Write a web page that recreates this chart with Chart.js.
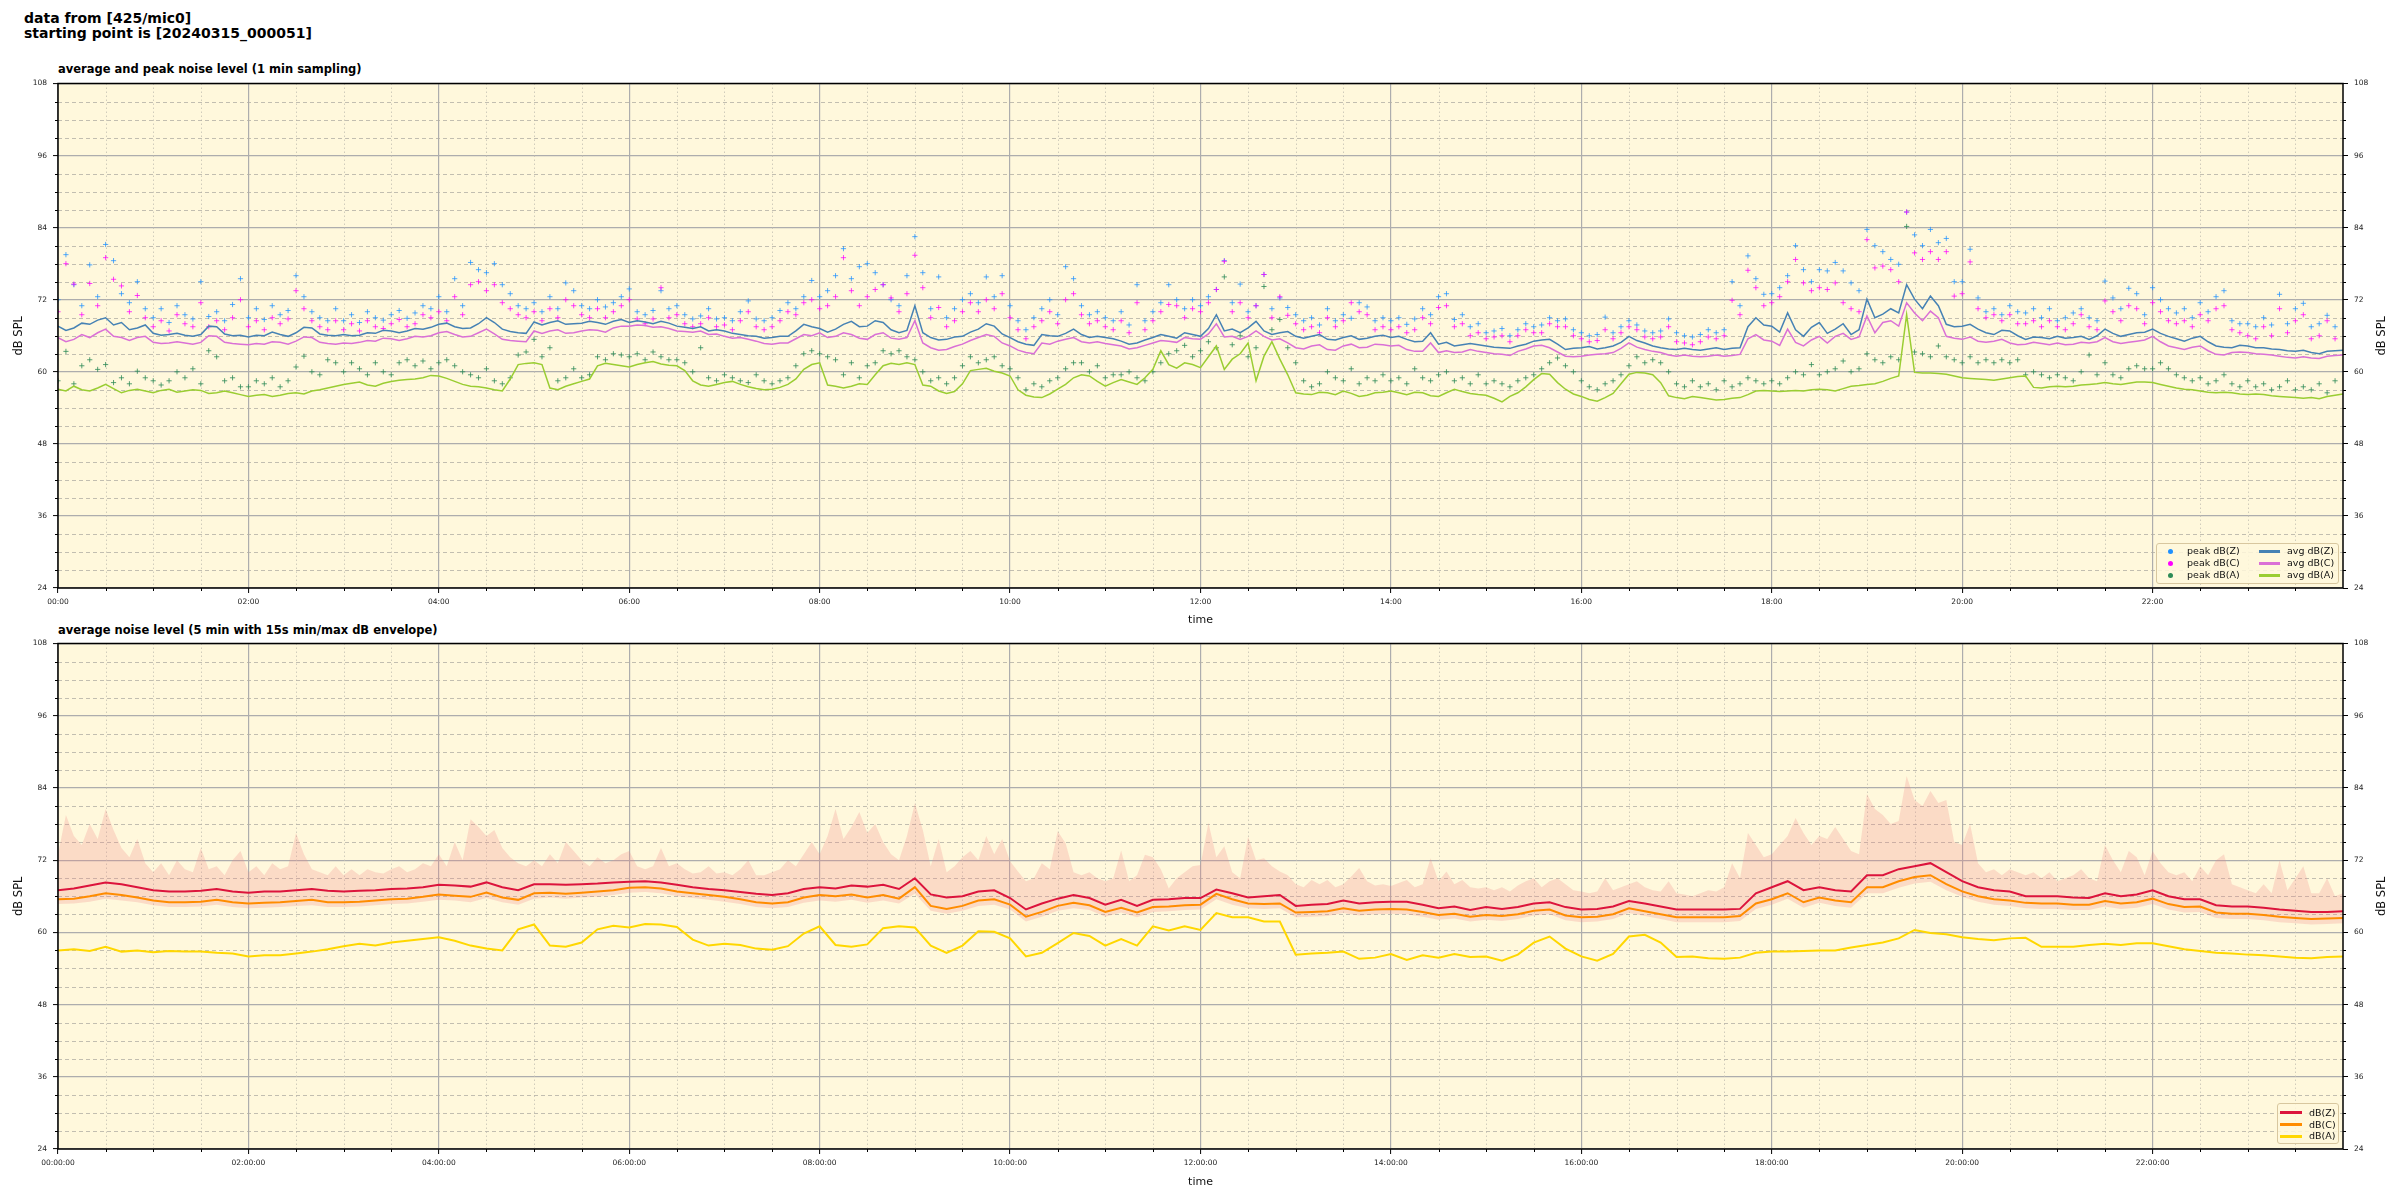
<!DOCTYPE html>
<html>
<head>
<meta charset="utf-8">
<script src="https://cdn.jsdelivr.net/npm/chart.js@4.4.1/dist/chart.umd.min.js"></script>
<style>
html,body{margin:0;padding:0;background:#fff;}
#wrap{position:relative;width:2400px;height:1200px;overflow:hidden;font-family:"DejaVu Sans",sans-serif;color:#000;}
.hdr{position:absolute;left:24px;top:11px;font-weight:bold;font-size:14px;line-height:15px;white-space:pre;}
.ttl{position:absolute;left:58px;font-weight:bold;font-size:11.5px;line-height:13px;white-space:pre;}
canvas{position:absolute;left:0;}
.lg{position:absolute;background:rgba(255,248,220,0.85);border:1px solid #d8c79f;border-radius:3px;box-sizing:border-box;}
.lg .it{position:absolute;font-size:9.5px;line-height:12px;height:12px;white-space:pre;color:#111;}
.lg .dot{position:absolute;width:5px;height:5px;border-radius:50%;}
.lg .ln{position:absolute;height:3px;}
</style>
</head>
<body>
<div id="wrap">
  <div class="hdr" id="hdr"></div>
  <div class="ttl" id="t1" style="top:63px"></div>
  <div class="ttl" id="t2" style="top:624px"></div>
  <canvas id="c1" width="2400" height="561" style="top:79px"></canvas>
  <canvas id="c2" width="2400" height="561" style="top:639px"></canvas>
</div>
<script>
// ---------------- text ----------------
const headerLines = ['data from [425/mic0]', 'starting point is [20240315_000051]'];
const titleTop = 'average and peak noise level (1 min sampling)';
const titleBottom = 'average noise level (5 min with 15s min/max dB envelope)';
const yTitle = 'dB SPL';
const xTitle = 'time';

// ---------------- axes ----------------
const tickMinutes = [0, 120, 240, 360, 480, 600, 720, 840, 960, 1080, 1200, 1320];
const timeLabelsTop = ['00:00','02:00','04:00','06:00','08:00','10:00','12:00','14:00','16:00','18:00','20:00','22:00'];
const timeLabelsBottom = ['00:00:00','02:00:00','04:00:00','06:00:00','08:00:00','10:00:00','12:00:00','14:00:00','16:00:00','18:00:00','20:00:00','22:00:00'];
const yTickValues = [24, 36, 48, 60, 72, 84, 96, 108];
const yTickLabels = ['24','36','48','60','72','84','96','108'];

// sampling steps in minutes (x = index * step)
const AVG1_STEP = 5, PEAK_STEP = 5, AVG5_STEP = 10, ENVMAX_STEP = 5, ENVMIN_STEP = 10;

// ---------------- top chart: 1-min averages (read every 5 min, one row per hour) ----------------
const avgZ = [
67.6,66.9,67.3,68.1,67.9,68.6,69.0,67.8,68.2,67.0,67.3,67.8,
66.4,66.1,66.2,66.4,66.1,65.9,66.2,67.6,67.5,66.3,66.0,66.1,
65.8,66.1,66.0,66.6,66.2,65.9,66.5,67.4,67.3,66.3,66.1,66.0,
66.2,66.0,66.1,66.5,66.4,66.9,66.8,66.5,66.8,67.2,67.1,67.4,
67.9,68.1,67.5,67.2,67.3,68.0,69.0,68.2,67.1,66.7,66.5,66.4,
68.3,67.8,68.2,68.5,67.9,68.0,68.1,68.4,68.2,67.9,68.4,68.7,
68.2,68.5,68.3,68.0,68.4,68.1,67.6,67.4,67.2,67.5,66.8,67.0,
66.8,66.4,66.2,66.0,65.9,65.6,65.7,65.9,65.9,66.8,67.9,67.5,
67.2,66.6,67.1,67.9,68.4,67.5,67.6,68.5,68.2,67.0,66.5,66.9,
71.0,66.5,65.7,65.3,65.4,65.8,65.9,66.6,67.1,68.0,67.6,66.3,
65.7,65.0,64.6,64.4,66.2,66.0,65.9,66.4,67.1,66.2,65.7,65.9,
65.7,65.5,65.1,64.6,64.8,65.3,65.7,66.2,65.9,65.6,66.5,66.2,
65.9,67.2,69.5,66.8,67.1,66.5,67.3,68.4,66.8,66.2,66.5,66.7,
65.9,65.6,65.9,66.2,65.4,65.3,65.7,66.0,65.4,65.6,65.9,66.1,
65.7,65.9,65.4,65.0,65.1,66.5,64.6,64.9,64.3,64.5,64.7,64.5,
64.3,64.1,64.0,63.9,64.3,64.6,65.1,65.3,65.4,64.6,63.7,63.9,
64.0,64.2,63.8,64.0,64.3,64.9,65.9,65.2,64.8,64.3,64.0,63.8,
63.7,63.9,63.7,63.6,63.8,64.0,63.7,63.9,64.0,67.5,69.0,67.8,
67.6,66.6,69.8,67.0,65.9,67.4,68.2,66.4,67.1,68.0,66.2,67.0,
72.1,69.0,69.6,70.5,69.8,74.5,72.1,70.5,72.6,71.0,67.9,67.5,
67.6,67.9,67.1,66.5,66.2,66.9,66.8,66.0,65.4,65.8,65.7,65.5,
65.9,65.6,65.7,65.9,65.4,66.0,67.1,66.4,65.9,66.2,66.5,66.6,
67.1,66.4,65.9,65.5,65.1,65.6,65.9,65.0,64.3,64.1,64.0,64.4,
64.3,64.0,64.0,63.8,63.7,63.5,63.4,63.6,63.2,63.0,63.4,63.5,63.6];
const avgC = [
65.7,65.0,65.4,66.2,65.7,66.5,67.1,65.9,65.7,65.2,65.7,65.9,
64.9,64.7,64.8,65.0,64.8,64.6,64.9,66.0,65.9,64.9,64.7,64.6,
64.5,64.7,64.6,65.0,64.9,64.6,65.1,65.8,65.7,64.9,64.7,64.6,
64.8,64.7,64.9,65.2,65.1,65.6,65.5,65.2,65.5,65.9,65.8,66.0,
66.5,66.7,66.2,65.8,65.9,66.5,67.1,66.3,65.4,65.2,65.1,65.0,
66.8,66.4,66.8,67.0,66.4,66.5,66.8,67.0,66.9,66.6,67.3,67.6,
67.6,67.8,67.7,67.4,67.5,67.2,66.8,66.7,66.6,66.8,66.2,66.3,
65.9,65.6,65.7,65.4,65.1,64.7,64.6,64.8,64.8,65.5,66.2,66.0,
66.5,65.7,65.9,66.5,66.2,65.6,65.4,66.2,66.5,65.6,65.4,65.7,
68.5,64.8,64.0,63.6,63.7,64.2,64.6,65.2,65.7,66.2,65.9,64.8,
64.3,63.6,63.2,63.0,64.8,64.6,65.1,65.4,65.7,65.0,64.8,65.0,
64.7,64.5,64.3,63.8,64.0,64.4,64.8,65.2,65.1,64.9,65.7,65.5,
65.4,66.3,68.0,65.8,65.9,65.4,65.9,66.8,65.9,65.3,65.5,64.8,
64.0,63.8,64.3,64.5,63.7,63.6,64.3,64.6,64.0,64.1,64.6,64.5,
64.3,64.4,63.7,63.4,63.4,64.8,63.2,63.5,63.2,63.3,63.7,63.4,
63.2,63.0,62.9,62.7,63.4,63.8,64.3,64.4,64.0,63.3,62.6,62.5,
62.6,62.8,62.9,63.0,63.2,63.9,64.8,64.1,63.7,63.4,63.2,62.8,
62.6,62.8,62.6,62.5,62.6,62.8,62.6,62.7,62.9,65.5,66.2,65.3,
65.1,64.4,67.1,64.9,64.3,65.3,65.9,64.8,65.9,66.4,65.4,65.8,
69.3,66.5,68.2,68.5,67.6,71.5,69.8,68.5,70.1,69.0,65.9,65.6,
65.4,65.8,65.1,64.9,65.1,65.4,64.8,64.5,64.6,64.9,64.7,64.5,
64.8,64.5,64.6,64.9,64.8,65.0,65.7,65.0,64.7,64.9,65.1,65.3,
65.9,65.0,64.3,64.0,63.7,64.1,64.3,63.5,62.9,62.8,63.2,63.3,
63.2,63.0,62.9,62.8,62.6,62.4,62.3,62.5,62.3,62.2,62.6,62.7,62.8];
const avgA = [
57.1,56.8,57.6,57.0,56.8,57.3,57.9,57.2,56.5,56.9,57.1,56.8,
56.5,56.9,57.1,56.6,56.8,57.0,56.9,56.4,56.5,56.8,56.5,56.2,
55.9,56.1,56.2,55.9,56.1,56.4,56.5,56.3,56.8,57.0,57.3,57.6,
57.9,58.1,58.3,57.8,57.6,58.1,58.4,58.6,58.7,58.8,59.0,59.4,
59.3,58.9,58.4,57.9,57.6,57.5,57.3,57.0,56.8,58.8,61.2,61.4,
61.5,61.2,57.3,57.0,57.6,58.0,58.4,58.8,61.0,61.4,61.2,61.0,
60.8,61.2,61.5,61.7,61.3,61.1,61.0,60.2,58.5,57.8,57.6,57.9,
58.2,58.4,57.9,57.5,57.2,57.0,57.1,57.4,57.9,58.8,60.4,61.2,
61.5,57.8,57.6,57.3,57.6,58.0,57.9,59.5,61.0,61.4,61.2,61.5,
61.2,57.8,57.6,56.8,56.4,56.7,58.0,60.2,60.4,60.6,60.1,59.8,
59.3,57.0,56.1,55.8,55.7,56.3,57.1,57.9,59.0,59.5,59.3,58.4,
57.6,58.2,58.7,58.3,57.9,59.0,60.4,63.5,61.2,60.6,61.5,61.2,
60.7,62.5,64.3,60.4,62.1,63.0,64.8,58.5,62.6,65.0,62.1,59.5,
56.5,56.3,56.2,56.6,56.5,56.2,56.8,56.4,55.9,56.1,56.5,56.6,
56.8,56.5,56.2,56.6,56.5,56.0,55.9,56.5,57.1,56.7,56.4,56.2,
56.1,55.6,55.0,55.9,56.5,57.5,58.7,59.7,59.6,58.2,57.1,56.3,
55.9,55.4,55.1,55.7,56.4,58.0,59.6,59.9,59.8,59.5,58.2,56.0,
55.7,55.5,55.9,55.7,55.5,55.3,55.4,55.6,55.7,56.2,56.8,56.9,
56.8,56.7,56.8,56.9,56.8,57.0,57.1,57.0,56.8,57.2,57.6,57.7,
57.9,58.0,58.4,58.9,59.3,69.5,59.9,59.8,59.8,59.7,59.6,59.3,
59.0,58.9,58.8,58.7,58.6,58.8,59.0,59.2,59.3,57.4,57.3,57.5,
57.6,57.5,57.6,57.8,57.9,58.0,58.2,58.0,57.9,58.1,58.3,58.3,
58.2,57.9,57.6,57.3,57.1,57.0,56.8,56.6,56.5,56.6,56.5,56.3,
56.2,56.3,56.2,56.0,55.9,55.8,55.7,55.6,55.7,55.5,55.9,56.1,56.3];

// ---------------- top chart: 1-min peaks (read every 5 min) ----------------
const peakZ = [
72.0,79.5,74.5,71.0,77.8,72.5,81.2,78.5,73.0,71.5,75.0,70.5,
69.0,70.5,68.2,71.0,69.5,68.8,75.0,69.2,70.0,68.5,71.2,75.5,
69.0,70.5,68.7,71.0,69.5,70.2,76.0,72.5,70.0,69.0,68.5,70.5,
68.5,69.5,68.2,70.0,69.0,68.6,69.5,70.2,68.9,69.8,71.0,70.5,
72.5,70.0,75.5,71.0,78.2,77.0,76.5,78.0,74.5,73.0,71.0,70.5,
71.5,70.0,72.5,70.5,74.8,73.5,71.0,70.5,72.0,70.8,71.5,72.5,
73.8,70.0,69.5,70.2,73.5,70.5,71.0,69.5,68.8,69.3,70.5,68.8,
69.0,68.5,70.0,71.8,68.8,68.5,69.0,70.2,71.5,70.5,72.5,75.2,
72.5,73.5,76.0,80.5,75.5,77.5,78.0,76.5,74.5,72.0,71.0,76.0,
82.5,76.5,70.5,75.8,69.0,70.5,72.0,73.0,71.5,75.8,72.5,76.0,
71.0,68.5,67.0,69.0,70.5,72.0,69.5,77.5,75.5,71.0,69.5,70.0,
69.0,68.5,70.0,67.8,74.5,68.5,70.0,71.5,74.5,72.0,70.5,72.0,
71.0,72.5,73.7,78.5,71.5,74.6,70.0,71.0,76.2,70.5,72.3,70.7,
69.5,68.5,69.0,67.8,70.5,68.5,69.5,68.9,71.5,70.8,68.5,69.0,
68.5,69.0,67.9,68.8,70.5,69.5,72.5,73.0,68.7,69.5,67.5,68.0,
66.5,66.8,67.2,66.0,67.0,68.0,67.5,67.8,69.0,68.5,68.8,67.0,
66.5,66.0,66.2,69.1,66.5,67.5,68.5,67.8,66.8,66.5,66.8,68.8,
66.5,66.0,65.8,66.2,67.0,66.5,67.0,75.0,71.0,79.3,75.5,72.9,
73.0,74.0,76.0,81.0,77.0,75.0,77.0,76.8,78.2,76.8,74.8,73.5,
83.7,81.0,80.0,78.7,77.9,86.6,82.8,81.0,83.7,81.5,82.2,75.0,
75.0,80.4,72.3,70.0,70.5,69.5,71.0,70.0,69.8,70.5,69.0,70.5,
68.5,69.0,69.8,70.5,69.0,68.5,75.1,72.3,70.5,73.9,73.0,69.5,
74.0,72.0,70.5,69.8,70.5,69.0,71.5,70.0,72.5,73.5,68.5,68.0,
68.0,67.5,69.0,67.8,72.9,68.0,70.5,71.4,67.5,68.0,69.4,67.5];
const peakC = [
70.0,78.0,74.6,69.5,74.7,71.0,79.0,75.4,74.3,70.0,72.7,69.0,
67.5,68.5,66.8,69.5,68.0,67.5,71.5,67.5,68.5,67.0,69.0,72.0,
67.5,68.5,67.0,69.0,68.0,68.8,73.5,70.5,68.5,67.5,67.0,68.5,
67.0,68.0,66.8,68.5,67.5,67.2,68.0,68.7,67.5,68.0,69.5,69.0,
70.0,68.5,72.5,69.5,74.5,75.0,73.5,74.5,71.5,70.5,69.5,69.0,
70.0,68.5,70.5,69.0,72.0,71.0,69.5,69.0,70.5,69.0,70.0,71.0,
72.0,68.8,68.0,68.8,74.0,69.0,69.5,68.0,67.5,68.0,69.0,67.5,
67.8,67.0,68.5,70.0,67.5,67.0,67.5,68.5,70.0,69.5,71.5,72.0,
70.5,71.0,72.5,79.0,73.5,71.0,72.5,73.7,74.5,72.3,70.0,73.0,
79.4,74.0,69.0,70.7,67.5,68.5,70.0,71.5,70.0,72.0,70.5,73.0,
69.0,67.0,65.5,67.5,68.5,70.0,68.0,72.0,73.0,69.5,68.0,68.5,
67.5,67.0,68.5,66.5,71.5,67.0,68.5,70.0,71.2,71.0,69.0,70.5,
70.0,71.5,73.7,78.4,70.0,71.5,69.0,71.0,76.2,69.0,72.5,69.4,
68.0,67.0,67.5,66.5,69.0,67.5,68.5,71.5,70.0,69.5,67.0,67.5,
67.0,67.5,66.5,67.0,69.0,68.0,70.7,71.0,67.5,68.0,66.0,66.5,
65.5,65.8,66.0,65.0,66.0,67.0,66.5,66.5,68.0,67.5,67.5,66.0,
65.5,65.0,65.2,67.0,65.5,66.5,67.5,67.0,65.8,65.5,65.8,67.5,
65.0,64.8,64.5,65.0,65.8,65.5,66.0,71.9,69.5,76.9,74.0,71.0,
71.5,72.5,75.0,78.7,74.8,73.5,74.0,73.7,74.8,71.5,70.5,70.0,
82.0,77.3,77.6,77.0,75.0,86.6,79.8,78.7,80.0,78.7,80.0,72.6,
73.0,78.3,70.5,69.0,69.5,68.5,69.5,68.0,68.0,68.5,67.5,68.5,
67.5,67.0,68.0,69.5,67.5,67.0,71.8,70.0,68.5,71.0,70.5,68.0,
71.5,70.0,68.5,68.0,68.5,67.5,69.5,68.5,70.5,71.0,67.0,66.5,
66.0,65.5,67.5,66.0,70.5,66.5,68.5,69.5,65.5,66.0,68.5,65.5];
const peakA = [
58.5,63.4,58.0,61.0,62.0,60.4,61.2,58.2,59.0,58.0,60.1,59.0,
58.5,57.8,58.5,60.0,59.0,60.5,58.0,63.5,62.5,58.5,59.0,57.5,
57.5,58.5,58.0,59.0,57.5,58.5,60.8,62.6,60.0,59.5,62.0,61.5,
60.0,61.5,60.5,59.5,61.5,60.0,59.5,61.5,62.0,61.0,61.8,60.5,
61.5,62.0,61.0,60.0,59.5,59.0,60.5,58.5,58.0,59.0,62.8,63.3,
65.4,62.5,64.0,58.5,59.0,60.5,59.0,59.5,62.5,62.0,63.0,62.8,
62.5,63.0,62.0,63.3,62.5,62.0,62.0,61.5,60.0,64.0,59.0,58.5,
59.5,59.0,58.5,58.2,59.5,58.5,58.0,58.5,59.0,61.0,63.0,63.5,
63.0,62.5,62.0,59.5,61.5,59.0,61.0,61.5,63.5,63.0,63.5,62.5,
62.0,60.0,58.5,59.0,58.0,59.0,61.0,62.5,61.5,62.0,62.5,61.0,
60.5,59.0,57.0,58.0,57.5,58.5,59.0,60.5,61.5,61.5,60.0,61.0,
59.0,59.5,59.5,60.0,59.0,58.5,60.0,61.5,63.0,63.5,64.4,62.5,
63.5,65.0,64.0,75.8,64.5,66.0,62.5,64.0,74.2,67.0,68.7,64.0,
61.5,58.5,57.5,58.0,60.0,59.0,58.5,60.5,58.0,59.0,58.5,59.5,
58.5,59.0,58.0,60.5,59.0,58.5,59.5,60.0,58.5,59.0,58.0,59.5,
58.0,58.5,58.0,57.5,58.5,59.0,59.5,60.5,61.5,62.3,61.0,60.0,
58.5,57.5,57.0,58.0,58.5,59.5,61.0,62.5,61.5,62.0,61.5,60.0,
58.0,57.5,58.5,57.5,58.0,57.0,58.5,57.5,58.0,59.0,58.5,58.0,
58.5,58.0,59.0,60.0,59.5,61.2,59.5,60.0,60.5,61.8,60.0,60.5,
63.0,62.0,61.5,62.5,62.0,84.2,63.3,63.0,62.5,64.3,62.5,62.0,
61.5,62.5,61.5,62.0,61.5,62.0,61.5,62.0,59.5,60.0,59.5,59.0,
59.5,59.0,58.5,60.0,62.8,59.5,61.5,59.5,59.0,60.5,61.0,60.5,
60.5,61.5,60.5,59.5,59.0,58.5,59.0,58.0,58.5,59.5,58.0,57.5,
58.5,57.5,58.0,57.0,57.5,58.5,57.0,57.5,57.0,58.0,56.5,58.5];

// ---------------- bottom chart: 5-min averages (read every 10 min) ----------------
const avg5Z = [
67.0,67.3,67.8,68.3,68.0,67.5, 67.0,66.8,66.8,66.9,67.2,66.8, 66.6,66.8,66.8,67.0,67.2,66.9,
66.8,66.9,67.0,67.2,67.3,67.5, 67.9,67.8,67.6,68.3,67.5,67.0, 68.0,68.0,67.9,68.0,68.1,68.3,
68.4,68.5,68.3,67.9,67.5,67.2, 67.0,66.7,66.4,66.2,66.5,67.2, 67.5,67.3,67.8,67.6,67.9,67.2,
69.0,66.3,65.8,66.0,66.8,67.0, 65.7,63.8,64.8,65.6,66.2,65.7, 64.6,65.4,64.4,65.4,65.5,65.7,
65.7,67.1,66.5,65.8,66.0,66.2, 64.4,64.6,64.7,65.3,64.8,65.0, 65.1,65.1,64.6,64.0,64.3,63.7,
64.2,63.9,64.2,64.8,65.0,64.2, 63.8,63.9,64.3,65.2,64.8,64.3, 63.8,63.8,63.8,63.8,63.9,66.5,
67.5,68.5,67.0,67.5,67.0,66.8, 69.5,69.5,70.5,71.0,71.5,70.0, 68.5,67.5,67.0,66.8,66.0,66.0,
66.0,65.8,65.7,66.5,66.0,66.3, 67.0,66.0,65.5,65.5,64.5,64.3, 64.3,64.1,63.8,63.6,63.4,63.4,63.5];
const avg5C = [
65.5,65.6,66.0,66.5,66.2,65.8, 65.3,65.0,65.0,65.1,65.4,65.0, 64.8,64.9,65.0,65.2,65.4,65.0,
65.0,65.1,65.3,65.5,65.6,65.9, 66.3,66.1,65.9,66.6,65.8,65.4, 66.5,66.6,66.4,66.6,66.8,67.0,
67.4,67.5,67.3,66.8,66.5,66.2, 65.9,65.5,65.0,64.8,65.0,65.8, 66.2,66.0,66.3,65.8,66.2,65.6,
67.5,64.4,63.9,64.4,65.3,65.5, 64.6,62.6,63.4,64.4,64.9,64.5, 63.4,64.1,63.3,64.2,64.3,64.5,
64.6,66.4,65.5,64.8,64.7,64.8, 63.3,63.4,63.5,64.0,63.6,63.8, 63.9,63.8,63.4,62.9,63.1,62.6,
62.9,62.7,63.0,63.6,63.8,62.8, 62.5,62.6,63.0,64.0,63.5,63.0, 62.5,62.5,62.5,62.5,62.7,64.8,
65.5,66.5,65.0,65.8,65.3,65.0, 67.5,67.5,68.5,69.2,69.5,68.0, 66.8,66.0,65.5,65.3,64.9,64.8,
64.8,64.6,64.6,65.2,64.8,65.0, 65.6,64.7,64.2,64.3,63.3,63.1, 63.1,62.9,62.6,62.4,62.2,62.3,62.4];
const avg5A = [
57.0,57.2,56.9,57.6,56.8,57.0, 56.7,56.9,56.8,56.8,56.6,56.5, 56.0,56.2,56.2,56.5,56.8,57.2,
57.7,58.1,57.8,58.3,58.6,58.9, 59.2,58.6,57.8,57.3,57.0,60.5, 61.3,57.8,57.6,58.3,60.5,61.1,
60.8,61.4,61.3,60.9,58.8,57.8, 58.1,57.9,57.3,57.1,57.7,59.8, 61.0,57.9,57.6,58.0,60.7,61.0,
60.8,57.8,56.6,57.8,60.2,60.1, 59.0,56.0,56.6,58.2,59.9,59.4, 57.8,58.9,57.8,61.0,60.3,61.0,
60.4,63.2,62.5,62.5,61.8,61.8, 56.3,56.5,56.6,56.8,55.6,55.8, 56.4,55.4,56.2,55.8,56.4,55.9,
56.0,55.3,56.3,58.3,59.3,57.3, 56.0,55.3,56.4,59.3,59.6,58.3, 55.9,56.0,55.7,55.6,55.8,56.6,
56.8,56.8,56.9,57.0,57.0,57.5, 57.9,58.3,59.0,60.4,59.9,59.7, 59.2,58.9,58.7,59.0,59.1,57.6,
57.6,57.6,57.9,58.1,57.9,58.2, 58.2,57.7,57.2,56.9,56.6,56.5, 56.3,56.2,56.0,55.8,55.7,55.9,56.0];

// ---------------- bottom chart: 15 s min/max envelope ----------------
const envMax = [
73.0,79.5,76.0,74.5,78.0,75.5,80.5,77.0,74.0,72.5,75.5,71.5,
70.0,71.5,69.5,72.0,70.5,70.0,74.0,70.5,71.0,69.5,72.0,73.5,
70.0,71.0,69.5,71.5,70.5,71.0,76.5,73.0,70.5,70.0,69.5,71.0,
69.5,70.5,69.5,70.5,70.0,69.8,70.5,71.0,70.0,70.5,71.5,71.0,
73.0,71.0,75.0,72.0,78.8,77.5,76.0,77.0,74.0,72.5,71.5,71.0,
72.0,71.0,73.0,71.5,75.0,73.5,72.0,71.0,72.5,71.5,72.0,73.0,
73.5,71.0,70.5,71.0,74.0,71.0,71.5,70.5,69.8,70.0,71.0,69.8,
70.0,69.5,70.5,72.0,69.5,69.5,70.0,70.5,72.0,71.0,73.0,75.0,
73.0,76.0,80.5,75.5,77.5,80.0,76.5,78.0,75.0,73.0,72.0,76.0,
81.5,77.0,71.0,75.5,70.0,71.0,72.5,73.5,72.0,76.0,73.0,75.5,
71.8,70.1,68.5,69.0,71.5,70.5,76.8,74.8,70.0,69.5,70.0,69.0,
68.5,69.0,73.6,68.5,69.5,72.9,72.5,70.5,67.3,69.0,70.0,71.0,
71.2,78.2,72.5,74.3,70.0,69.0,75.9,72.0,72.3,71.0,70.1,69.5,
68.0,67.5,68.7,68.0,68.7,67.5,68.0,69.3,70.7,68.5,67.8,68.0,
67.7,68.2,68.7,67.5,68.0,72.3,68.5,70.1,68.0,68.7,67.5,67.3,
67.5,67.0,67.5,66.8,67.8,68.5,69.0,67.5,68.5,69.0,68.0,67.0,
66.8,66.5,66.8,69.0,67.0,67.5,68.0,68.5,67.5,67.0,66.8,68.5,
66.5,66.3,66.0,66.5,67.0,66.8,67.5,71.5,69.0,76.5,74.5,72.5,
73.0,74.5,76.0,79.0,76.5,74.5,76.0,75.5,77.5,75.5,73.5,73.0,
83.0,80.5,79.5,78.0,78.5,86.0,82.0,81.0,83.5,81.5,82.0,75.0,
74.5,78.0,71.5,70.0,70.5,69.5,70.5,70.0,69.5,70.0,69.0,70.0,
68.5,69.0,69.5,70.5,69.0,68.5,74.5,72.0,70.0,73.5,72.5,69.5,
73.5,71.5,70.0,69.5,70.0,68.5,71.0,69.5,72.0,73.0,68.0,67.5,
67.0,66.5,68.0,66.5,72.0,67.0,69.0,71.0,66.5,66.5,69.0,66.0,66.5];
const envMin = [
64.7,64.8,65.1,65.6,65.3,65.0, 64.5,64.2,64.2,64.3,64.6,64.2, 64.0,64.1,64.2,64.4,64.5,64.2,
64.2,64.3,64.5,64.7,64.8,65.1, 65.4,65.3,65.0,65.7,65.0,64.6, 65.6,65.8,65.6,65.8,65.9,66.2,
66.6,66.7,66.5,66.0,65.7,65.4, 65.1,64.7,64.2,64.0,64.2,64.9, 65.3,65.1,65.4,64.9,65.3,64.8,
66.4,63.6,63.1,63.6,64.4,64.6, 63.8,61.8,62.6,63.6,64.0,63.7, 62.6,63.3,62.5,63.4,63.5,63.7,
63.8,65.5,64.6,64.0,63.9,64.0, 62.5,62.6,62.7,63.2,62.8,63.0, 63.1,63.0,62.6,62.1,62.3,61.8,
62.1,61.9,62.2,62.8,63.0,62.0, 61.7,61.8,62.2,63.2,62.7,62.2, 61.7,61.7,61.7,61.7,61.9,63.9,
64.6,65.6,64.1,64.9,64.4,64.1, 66.5,66.5,67.4,68.1,68.4,67.0, 65.9,65.1,64.6,64.4,64.0,63.9,
63.9,63.7,63.7,64.3,63.9,64.1, 64.7,63.8,63.3,63.4,62.4,62.2, 62.2,62.0,61.7,61.5,61.3,61.4,61.5];

// ---------------- legends ----------------
const legendTopLabels = ['peak dB(Z)','peak dB(C)','peak dB(A)','avg dB(Z)','avg dB(C)','avg dB(A)'];
const legendBottomLabels = ['dB(Z)','dB(C)','dB(A)'];

// ---------------- styles ----------------
const FONT = '"DejaVu Sans", sans-serif';
const COL = {
  avgZ:'#4682b4', avgC:'#da70d6', avgA:'#9acd32',
  peakZ:'rgba(30,144,255,0.75)', peakC:'rgba(255,0,255,0.75)', peakA:'rgba(46,139,87,0.8)',
  peakZl:'#1e90ff', peakCl:'#ff00ff', peakAl:'#2e8b57',
  z:'#dc143c', c:'#ff8c00', a:'#ffd700', env:'rgba(240,128,128,0.24)'
};
const PLOT_BG = '#fff8dc';
const WANT_AREA_TOP = 5;   // chart area top, px below canvas top

const xy = (arr, step) => arr.map((v, i) => ({x: i * step, y: v}));

// header / titles
document.getElementById('hdr').textContent = headerLines.join('\n');
document.getElementById('t1').textContent = titleTop;
document.getElementById('t2').textContent = titleBottom;

// plugin: plot background, minor grid, frame, minor ticks, right axis title
const decor = {
  id: 'decor',
  beforeDraw(chart) {
    const {ctx, chartArea: a} = chart;
    ctx.save();
    ctx.fillStyle = PLOT_BG;
    ctx.fillRect(a.left, a.top, a.right - a.left, a.bottom - a.top);
    ctx.restore();
  },
  beforeDatasetsDraw(chart) {
    const {ctx, chartArea: a, scales} = chart;
    const x = scales.x, y = scales.y;
    ctx.save();
    ctx.lineWidth = 0.8;
    ctx.strokeStyle = '#c4c0b2';
    ctx.setLineDash([1.5, 2.5]);
    for (let m = x.min; m <= x.max; m += 30) {
      if (m % 120 === 0) continue;
      const px = Math.round(x.getPixelForValue(m)) + 0.5;
      ctx.beginPath(); ctx.moveTo(px, a.top); ctx.lineTo(px, a.bottom); ctx.stroke();
    }
    ctx.strokeStyle = '#b3afa4';
    ctx.setLineDash([4, 3]);
    for (let v = y.min; v <= y.max; v += 3) {
      if ((v - y.min) % 12 === 0) continue;
      const py = Math.round(y.getPixelForValue(v)) + 0.5;
      ctx.beginPath(); ctx.moveTo(a.left, py); ctx.lineTo(a.right, py); ctx.stroke();
    }
    ctx.restore();
  },
  afterDraw(chart) {
    const {ctx, chartArea: a, scales} = chart;
    const x = scales.x, y = scales.y;
    ctx.save();
    ctx.strokeStyle = '#000';
    ctx.lineWidth = 1;
    ctx.setLineDash([]);
    for (let m = x.min; m <= x.max; m += 30) {
      if (m % 120 === 0) continue;
      const px = Math.round(x.getPixelForValue(m)) + 0.5;
      ctx.beginPath(); ctx.moveTo(px, a.bottom); ctx.lineTo(px, a.bottom + 3); ctx.stroke();
    }
    for (let v = y.min; v <= y.max; v += 3) {
      if ((v - y.min) % 12 === 0) continue;
      const py = Math.round(y.getPixelForValue(v)) + 0.5;
      ctx.beginPath(); ctx.moveTo(a.left - 3, py); ctx.lineTo(a.left, py); ctx.stroke();
      ctx.beginPath(); ctx.moveTo(a.right, py); ctx.lineTo(a.right + 3, py); ctx.stroke();
    }
    ctx.lineWidth = 1.5;
    ctx.strokeRect(a.left, a.top, a.right - a.left, a.bottom - a.top);
    // right axis title (reads bottom-to-top like the left one)
    ctx.fillStyle = '#111';
    ctx.font = '11.5px ' + FONT;
    ctx.textAlign = 'center';
    ctx.textBaseline = 'middle';
    ctx.translate(chart.width - 18, (a.top + a.bottom) / 2);
    ctx.rotate(-Math.PI / 2);
    ctx.fillText(yTitle, 0, 0);
    ctx.restore();
  }
};

function makeScales(xLabels, xAxisH, titlePadBottom) {
  const tickFont = {family: FONT, size: 7.5};
  const yCommon = {
    type: 'linear', min: 24, max: 108,
    afterBuildTicks: s => { s.ticks = yTickValues.map(v => ({value: v})); },
    ticks: {callback: (v, i) => yTickLabels[i], font: tickFont, color: '#222', padding: 6, autoSkip: false},
    border: {display: false}
  };
  return {
    x: {
      type: 'linear', min: 0, max: 1440, position: 'bottom',
      afterBuildTicks: s => { s.ticks = tickMinutes.map(v => ({value: v})); },
      afterFit: s => { s.height = xAxisH; },
      ticks: {callback: (v, i) => xLabels[i], font: tickFont, color: '#222', padding: 5, maxRotation: 0, autoSkip: false},
      grid: {color: '#adadad', lineWidth: 1.2, tickLength: 5, tickColor: '#000', tickWidth: 1},
      border: {display: false},
      title: {display: true, text: xTitle, font: {family: FONT, size: 11}, color: '#111', padding: {top: 0, bottom: titlePadBottom}}
    },
    y: Object.assign({}, yCommon, {
      position: 'left',
      afterFit: s => { s.width = 58; },
      grid: {color: '#adadad', lineWidth: 1.2, tickLength: 5, tickColor: '#000', tickWidth: 1},
      title: {display: true, text: yTitle, font: {family: FONT, size: 11.5}, color: '#111', padding: {top: 12, bottom: 0}}
    }),
    yR: Object.assign({}, yCommon, {
      position: 'right',
      afterFit: s => { s.width = 57; },
      grid: {drawOnChartArea: false, tickLength: 5, tickColor: '#000', tickWidth: 1}
    })
  };
}

const baseOptions = (scales) => ({
  responsive: false, animation: false, devicePixelRatio: 1, events: [],
  layout: {padding: {top: WANT_AREA_TOP, left: 0, right: 0, bottom: 0}},
  plugins: {legend: {display: false}, tooltip: {enabled: false}, title: {display: false}},
  scales
});

const lineDs = (label, data, color, width, order) => ({
  label, data, borderColor: color, backgroundColor: color, borderWidth: width,
  pointRadius: 0, tension: 0, fill: false, order, yAxisID: 'y'
});
const peakDs = (label, data, color, order) => ({
  label, data, showLine: false, pointStyle: 'cross', pointRadius: 2.6,
  pointBorderWidth: 1, pointBorderColor: color, pointBackgroundColor: color,
  borderColor: color, backgroundColor: color, order, yAxisID: 'y'
});

const cfgTop = () => ({
  type: 'line',
  data: {datasets: [
    lineDs('avg dB(Z)', xy(avgZ, AVG1_STEP), COL.avgZ, 1.5, 1),
    lineDs('avg dB(C)', xy(avgC, AVG1_STEP), COL.avgC, 1.5, 2),
    lineDs('avg dB(A)', xy(avgA, AVG1_STEP), COL.avgA, 1.5, 3),
    peakDs('peak dB(Z)', xy(peakZ, PEAK_STEP), COL.peakZ, 6),
    peakDs('peak dB(C)', xy(peakC, PEAK_STEP), COL.peakC, 5),
    peakDs('peak dB(A)', xy(peakA, PEAK_STEP), COL.peakA, 4),
    {label: '_r', data: [], yAxisID: 'yR'}
  ]},
  options: baseOptions(makeScales(timeLabelsTop, 52, 13)),
  plugins: [decor]
});

const cfgBottom = () => ({
  type: 'line',
  data: {datasets: [
    lineDs('dB(Z)', xy(avg5Z, AVG5_STEP), COL.z, 2, 1),
    lineDs('dB(C)', xy(avg5C, AVG5_STEP), COL.c, 2, 2),
    lineDs('dB(A)', xy(avg5A, AVG5_STEP), COL.a, 2, 3),
    {label: 'max', data: xy(envMax, ENVMAX_STEP), borderWidth: 0, borderColor: 'rgba(0,0,0,0)', pointRadius: 0, tension: 0,
     fill: {target: 4}, backgroundColor: COL.env, order: 4, yAxisID: 'y'},
    {label: 'min', data: xy(envMin, ENVMIN_STEP), borderWidth: 0, borderColor: 'rgba(0,0,0,0)', pointRadius: 0, tension: 0,
     fill: false, order: 5, yAxisID: 'y'},
    {label: '_r', data: [], yAxisID: 'yR'}
  ]},
  options: baseOptions(makeScales(timeLabelsBottom, 51, 11)),
  plugins: [decor]
});

// build a chart and, if the library put the plot area lower than wanted,
// move the canvas up and make it taller by the same amount
function build(id, top, height, cfgFn) {
  const cv = document.getElementById(id);
  let ch = new Chart(cv, cfgFn());
  const extra = Math.round(ch.chartArea.top - WANT_AREA_TOP);
  if (extra !== 0) {
    ch.destroy();
    cv.width = 2400;
    cv.height = height + extra;
    cv.style.top = (top - extra) + 'px';
    ch = new Chart(cv, cfgFn());
    top = top - extra;
  }
  return {chart: ch, top};
}

const b1 = build('c1', 79, 561, cfgTop);
const b2 = build('c2', 639, 561, cfgBottom);

// HTML legends inside the plot areas (bottom-right)
function addLegend(chart, canvasTop, box, items) {
  const a = chart.chartArea;
  const lg = document.createElement('div');
  lg.className = 'lg';
  lg.style.width = box.w + 'px';
  lg.style.height = box.h + 'px';
  lg.style.left = (a.right - box.mr - box.w) + 'px';
  lg.style.top = (canvasTop + a.bottom - box.mb - box.h) + 'px';
  items.forEach(it => {
    if (it.kind === 'dot') {
      const d = document.createElement('div');
      d.className = 'dot'; d.style.background = it.color;
      d.style.left = (it.mx - 2.5) + 'px'; d.style.top = (it.cy - 2.5) + 'px';
      lg.appendChild(d);
    } else {
      const l = document.createElement('div');
      l.className = 'ln'; l.style.background = it.color;
      l.style.left = it.mx + 'px'; l.style.width = it.mw + 'px'; l.style.top = (it.cy - 1.5) + 'px';
      lg.appendChild(l);
    }
    const t = document.createElement('div');
    t.className = 'it'; t.textContent = it.label;
    t.style.left = it.tx + 'px'; t.style.top = (it.cy - 6) + 'px';
    lg.appendChild(t);
  });
  document.getElementById('wrap').appendChild(lg);
}
const rows = [7, 19, 31];
addLegend(b1.chart, b1.top, {w: 183, h: 41, mr: 4, mb: 4}, [
  {kind: 'dot', color: COL.peakZl, label: legendTopLabels[0], mx: 13, tx: 30, cy: rows[0]},
  {kind: 'dot', color: COL.peakCl, label: legendTopLabels[1], mx: 13, tx: 30, cy: rows[1]},
  {kind: 'dot', color: COL.peakAl, label: legendTopLabels[2], mx: 13, tx: 30, cy: rows[2]},
  {kind: 'line', color: COL.avgZ, label: legendTopLabels[3], mx: 102, mw: 21, tx: 130, cy: rows[0]},
  {kind: 'line', color: COL.avgC, label: legendTopLabels[4], mx: 102, mw: 21, tx: 130, cy: rows[1]},
  {kind: 'line', color: COL.avgA, label: legendTopLabels[5], mx: 102, mw: 21, tx: 130, cy: rows[2]}
]);
const rows2 = [8.5, 20.5, 32];
addLegend(b2.chart, b2.top, {w: 62, h: 41, mr: 4, mb: 5}, [
  {kind: 'line', color: COL.z, label: legendBottomLabels[0], mx: 2, mw: 22, tx: 31, cy: rows2[0]},
  {kind: 'line', color: COL.c, label: legendBottomLabels[1], mx: 2, mw: 22, tx: 31, cy: rows2[1]},
  {kind: 'line', color: COL.a, label: legendBottomLabels[2], mx: 2, mw: 22, tx: 31, cy: rows2[2]}
]);
</script>
</body>
</html>
